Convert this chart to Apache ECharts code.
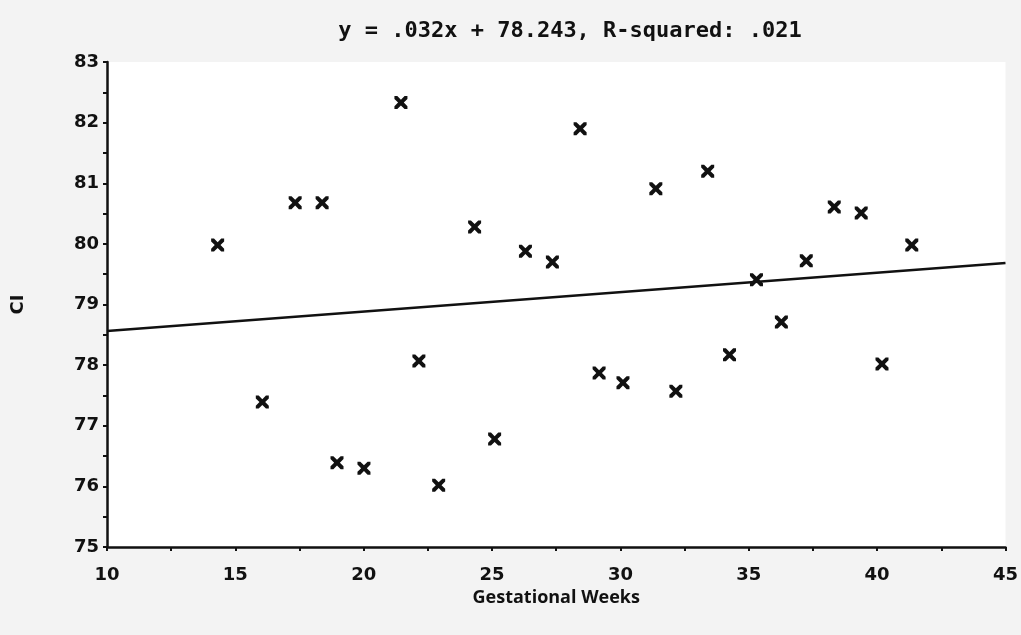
<!DOCTYPE html>
<html>
<head>
<meta charset="utf-8">
<script src="https://cdn.jsdelivr.net/npm/echarts@6/dist/echarts.min.js"></script>
<style>html,body{margin:0;padding:0;background:#f3f3f3;}#chart{width:1021px;height:635px;}</style>
</head>
<body>
<div id="chart"></div>
<script>
// Gestational weeks (x) and CI (y)
var weeks = [14.31, 16.05, 17.33, 18.38, 18.96, 20.01, 21.45, 22.15, 22.92, 24.32, 25.10, 26.30, 27.35, 28.43,
             29.17, 30.10, 31.38, 32.16, 33.40, 34.25, 35.30, 36.27, 37.24, 38.33, 39.38, 40.19, 41.35];
var ciValues = [79.98, 77.39, 80.68, 80.68, 76.39, 76.30, 82.33, 78.07, 76.02, 80.28, 76.78, 79.88, 79.70, 81.90,
                77.87, 77.71, 80.91, 77.57, 81.20, 78.17, 79.41, 78.71, 79.72, 80.61, 80.51, 78.02, 79.98];
// Regression line end points (x, y)
var fitX = [10, 45];
var fitY = [78.563, 79.683];
var xTicks = [10, 15, 20, 25, 30, 35, 40, 45];
var yTicks = [75, 76, 77, 78, 79, 80, 81, 82, 83];

var scatterData = weeks.map(function (w, i) { return [w, ciValues[i]]; });
var fitData = fitX.map(function (x, i) { return [x, fitY[i]]; });

var xMark = 'path://M0,0L2.2,0L5,2.8L7.8,0L10,0L10,2.2L7.2,5L10,7.8L10,10L7.8,10L5,7.2L2.2,10L0,10L0,7.8L2.8,5L0,2.2Z';

var chart = echarts.init(document.getElementById('chart'));
chart.setOption({
  backgroundColor: '#f3f3f3',
  animation: false,
  title: {
    text: 'y = .032x + 78.243, R-squared: .021',
    left: 565, top: 15, textAlign: 'center',
    textStyle: { fontFamily: 'DejaVu Sans Mono', fontWeight: 'bold', fontSize: 22, color: '#111' }
  },
  grid: { left: 107, right: 14, top: 62, bottom: 88, show: true, backgroundColor: '#ffffff', borderWidth: 0 },
  xAxis: {
    type: 'value', min: xTicks[0], max: xTicks[xTicks.length - 1], interval: 5,
    name: 'Gestational Weeks', nameLocation: 'middle', nameGap: 38,
    nameTextStyle: { fontFamily: 'Open Sans', fontWeight: 'bold', fontSize: 18, color: '#111' },
    axisLine: { lineStyle: { color: '#111', width: 2.5 } },
    axisTick: { show: true, length: 4, lineStyle: { color: '#111', width: 2 } },
    minorTick: { show: true, splitNumber: 2, length: 4, lineStyle: { color: '#111', width: 2 } },
    splitLine: { show: false },
    axisLabel: { fontFamily: 'DejaVu Sans', fontWeight: 'bold', fontSize: 18, color: '#111', margin: 19,
      formatter: function (v) { return xTicks.indexOf(v) >= 0 ? String(v) : ''; } }
  },
  yAxis: {
    type: 'value', min: yTicks[0], max: yTicks[yTicks.length - 1], interval: 1,
    name: 'CI', nameLocation: 'middle', nameGap: 80, nameRotate: 90,
    nameTextStyle: { fontFamily: 'DejaVu Sans', fontWeight: 'bold', fontSize: 18, color: '#111' },
    axisLine: { lineStyle: { color: '#111', width: 2.5 } },
    axisTick: { show: true, length: 4, lineStyle: { color: '#111', width: 2 } },
    minorTick: { show: true, splitNumber: 2, length: 4, lineStyle: { color: '#111', width: 2 } },
    splitLine: { show: false },
    axisLabel: { fontFamily: 'DejaVu Sans', fontWeight: 'bold', fontSize: 18, color: '#111', margin: 8,
      formatter: function (v) { return yTicks.indexOf(v) >= 0 ? String(v) : ''; } }
  },
  series: [
    {
      type: 'line', data: fitData, symbol: 'none', silent: true,
      lineStyle: { color: '#111', width: 2.5 }
    },
    {
      type: 'scatter', data: scatterData, symbol: xMark, symbolSize: 13,
      itemStyle: { color: '#111', opacity: 1 }
    }
  ]
});
</script>
</body>
</html>
